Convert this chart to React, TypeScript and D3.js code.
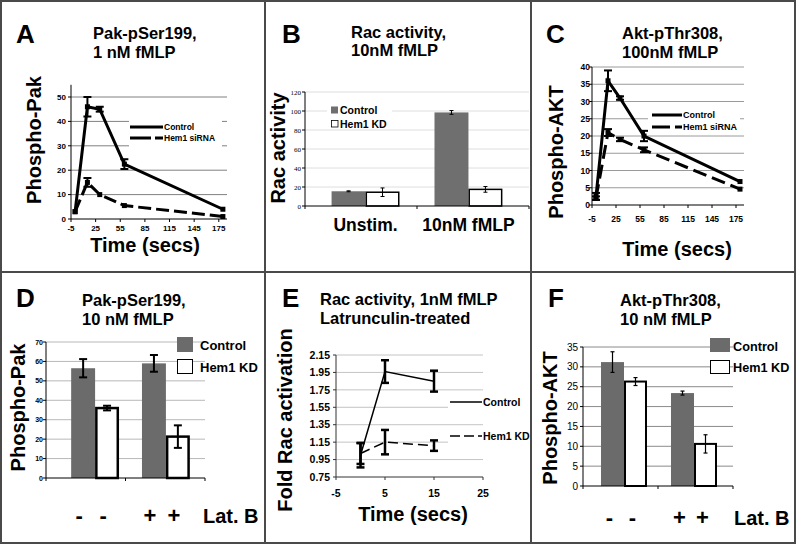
import React from "react";
import * as d3 from "d3";

const FONT = "'Liberation Sans', Arial, Helvetica, sans-serif";

// ---------- Panel A data (Pak-pSer199, 1 nM fMLP) ----------
const timesA = [0, 15, 30, 60, 180];
const pakControl = [3, 46, 45, 22.5, 4];
const pakControlErr = [0, 4, 1, 2, 0];
const pakHem1 = [3, 15, 10, 5.5, 1];
const pakHem1Err = [0, 1.8, 0, 0, 0];
const ticksAx = [-5, 25, 55, 85, 115, 145, 175];
const ticksAy = [0, 10, 20, 30, 40, 50];

// ---------- Panel B data (Rac activity, 10nM fMLP) ----------
const racCategories = ["Unstim.", "10nM fMLP"];
const racControl = [15.5, 98.5];
const racControlErr = [0.5, 2];
const racHem1 = [14.5, 17.5];
const racHem1Err = [4.5, 3];
const ticksBy = [0, 20, 40, 60, 80, 100, 120];

// ---------- Panel C data (Akt-pThr308, 100nM fMLP) ----------
const timesC = [0, 15, 30, 60, 180];
const aktControl = [2.5, 36, 31, 20, 6.8];
const aktControlErr = [1, 3, 0.5, 1.5, 0];
const aktHem1 = [2, 21, 19, 16, 4.6];
const aktHem1Err = [0.5, 1, 0.5, 0.7, 0];
const ticksCx = [-5, 25, 55, 85, 115, 145, 175];
const ticksCy = [0, 5, 10, 15, 20, 25, 30, 35, 40];

// ---------- Panel D data (Pak-pSer199, 10 nM fMLP, Lat. B) ----------
const latGroups = ["-", "+"];
const latLabels = ["-", "-", "+", "+"];
const pakLatControl = [56.5, 59];
const pakLatControlErr = [4.7, 4.3];
const pakLatHem1 = [36, 21.3];
const pakLatHem1Err = [1.2, 5.8];
const ticksDy = [0, 10, 20, 30, 40, 50, 60, 70];

// ---------- Panel E data (Rac activity, 1nM fMLP, Latrunculin) ----------
const timesE = [0, 5, 15];
const racLatControl = [1.0, 1.96, 1.85];
const racLatControlErr = [0.14, 0.13, 0.12];
const racLatHem1 = [1.02, 1.15, 1.11];
const racLatHem1Err = [0.12, 0.14, 0.06];
const ticksEx = [-5, 5, 15, 25];
const ticksEy = [0.75, 0.95, 1.15, 1.35, 1.55, 1.75, 1.95, 2.15];

// ---------- Panel F data (Akt-pThr308, 10 nM fMLP, Lat. B) ----------
const aktLatControl = [31.2, 23.4];
const aktLatControlErr = [2.6, 0.5];
const aktLatHem1 = [26.3, 10.6];
const aktLatHem1Err = [1, 2.3];
const ticksFy = [0, 5, 10, 15, 20, 25, 30, 35];

type Series = { t: number[]; v: number[]; e: number[]; dash?: string };

function LineChart(p: {
  xd: [number, number];
  xr: [number, number];
  yd: [number, number];
  yr: [number, number];
  xTicks: number[];
  yTicks: number[];
  series: Series[];
  grid: string;
  lw: number;
  ew: number;
  cap: number;
  marker: number;
  tf: number;
  tw: string;
  yFmt: (n: number) => string;
  xLabY: number;
  yLabX: number;
  axis: string;
}) {
  const x = d3.scaleLinear().domain(p.xd).range(p.xr);
  const y = d3.scaleLinear().domain(p.yd).range(p.yr);
  const gen = d3
    .line<[number, number]>()
    .x((d) => x(d[0]))
    .y((d) => y(d[1]));
  return (
    <g>
      {p.yTicks
        .filter((t) => t > p.yd[0])
        .map((t) => (
          <line key={"g" + t} x1={p.xr[0]} x2={p.xr[1]} y1={y(t)} y2={y(t)} stroke={p.grid} strokeWidth={1} />
        ))}
      <line x1={p.xr[0]} x2={p.xr[0]} y1={p.yr[0]} y2={p.yr[1]} stroke={p.axis} strokeWidth={1} />
      <line x1={p.xr[0]} x2={p.xr[1]} y1={p.yr[0]} y2={p.yr[0]} stroke={p.axis} strokeWidth={1} />
      {p.yTicks.map((t) => (
        <g key={"y" + t}>
          <line x1={p.xr[0] - 3} x2={p.xr[0]} y1={y(t)} y2={y(t)} stroke={p.axis} />
          <text x={p.yLabX} y={y(t) + p.tf * 0.36} textAnchor="end" fontSize={p.tf} fontWeight={p.tw}>
            {p.yFmt(t)}
          </text>
        </g>
      ))}
      {p.xTicks.map((t) => (
        <g key={"x" + t}>
          <line x1={x(t)} x2={x(t)} y1={p.yr[0]} y2={p.yr[0] + 3} stroke={p.axis} />
          <text x={x(t)} y={p.xLabY} textAnchor="middle" fontSize={p.tf} fontWeight={p.tw}>
            {t}
          </text>
        </g>
      ))}
      {p.series.map((s, si) => (
        <g key={"s" + si}>
          <path
            d={gen(s.t.map((t, i) => [t, s.v[i]] as [number, number])) || ""}
            fill="none"
            stroke="#000"
            strokeWidth={p.lw}
            strokeDasharray={s.dash}
            strokeLinejoin="miter"
          />
          {s.t.map((t, i) =>
            s.e[i] > 0 ? (
              <g key={"e" + i} stroke="#000" strokeWidth={p.ew}>
                <line x1={x(t)} x2={x(t)} y1={y(s.v[i] - s.e[i])} y2={y(s.v[i] + s.e[i])} />
                <line x1={x(t) - p.cap / 2} x2={x(t) + p.cap / 2} y1={y(s.v[i] + s.e[i])} y2={y(s.v[i] + s.e[i])} />
                <line x1={x(t) - p.cap / 2} x2={x(t) + p.cap / 2} y1={y(s.v[i] - s.e[i])} y2={y(s.v[i] - s.e[i])} />
              </g>
            ) : null
          )}
          {p.marker > 0 &&
            s.t.map((t, i) => (
              <rect
                key={"m" + i}
                x={x(t) - p.marker / 2}
                y={y(s.v[i]) - p.marker / 2}
                width={p.marker}
                height={p.marker}
                fill="#000"
              />
            ))}
        </g>
      ))}
    </g>
  );
}

function BarChart(p: {
  groups: string[];
  br: [number, number];
  pi: number;
  po: number;
  axr: [number, number];
  yd: [number, number];
  yr: [number, number];
  yTicks: number[];
  control: number[];
  controlErr: number[];
  hem: number[];
  hemErr: number[];
  grid: string;
  gray: string;
  hemStroke: number;
  ew: number;
  cap: number;
  tf: number;
  tw: string;
  tfont?: string;
  yLabX: number;
  axis: string;
}) {
  const xb = d3.scaleBand<string>().domain(p.groups).range(p.br).paddingInner(p.pi).paddingOuter(p.po);
  const xs = d3.scaleBand<string>().domain(["c", "h"]).range([0, xb.bandwidth()]);
  const y = d3.scaleLinear().domain(p.yd).range(p.yr);
  const bars = p.groups.flatMap((g, i) => [
    { g, k: "c", v: p.control[i], e: p.controlErr[i] },
    { g, k: "h", v: p.hem[i], e: p.hemErr[i] },
  ]);
  return (
    <g>
      {p.yTicks
        .filter((t) => t > p.yd[0])
        .map((t) => (
          <line key={"g" + t} x1={p.axr[0]} x2={p.axr[1]} y1={y(t)} y2={y(t)} stroke={p.grid} strokeWidth={1} />
        ))}
      {p.yTicks.map((t) => (
        <g key={"y" + t}>
          <line x1={p.axr[0] - 3} x2={p.axr[0]} y1={y(t)} y2={y(t)} stroke={p.axis} />
          <text
            x={p.yLabX}
            y={y(t) + p.tf * 0.36}
            textAnchor="end"
            fontSize={p.tf}
            fontWeight={p.tw}
            fontFamily={p.tfont || FONT}
          >
            {t}
          </text>
        </g>
      ))}
      {bars.map((b, i) => {
        const x0 = (xb(b.g) || 0) + (xs(b.k) || 0);
        const w = xs.bandwidth();
        const hs = b.k === "h" ? p.hemStroke : 0;
        return (
          <rect
            key={"b" + i}
            x={x0 + hs / 2}
            y={y(b.v)}
            width={w - hs}
            height={y(0) - y(b.v)}
            fill={b.k === "c" ? p.gray : "#fff"}
            stroke={b.k === "h" ? "#000" : "none"}
            strokeWidth={hs}
          />
        );
      })}
      <line x1={p.axr[0]} x2={p.axr[0]} y1={p.yr[0]} y2={p.yr[1]} stroke={p.axis} strokeWidth={1} />
      <line x1={p.axr[0]} x2={p.axr[1]} y1={p.yr[0]} y2={p.yr[0]} stroke={p.axis} strokeWidth={1} />
      {[p.axr[0], (p.axr[0] + p.axr[1]) / 2, p.axr[1]].map((xx, i) => (
        <line key={"t" + i} x1={xx} x2={xx} y1={p.yr[0]} y2={p.yr[0] + 3} stroke={p.axis} />
      ))}
      {bars.map((b, i) => {
        const cx = (xb(b.g) || 0) + (xs(b.k) || 0) + xs.bandwidth() / 2;
        return (
          <g key={"e" + i} stroke="#000" strokeWidth={p.ew}>
            <line x1={cx} x2={cx} y1={y(b.v - b.e)} y2={y(b.v + b.e)} />
            <line x1={cx - p.cap / 2} x2={cx + p.cap / 2} y1={y(b.v + b.e)} y2={y(b.v + b.e)} />
            <line x1={cx - p.cap / 2} x2={cx + p.cap / 2} y1={y(b.v - b.e)} y2={y(b.v - b.e)} />
          </g>
        );
      })}
    </g>
  );
}

function barCenters(groups: string[], br: [number, number], pi: number, po: number) {
  const xb = d3.scaleBand<string>().domain(groups).range(br).paddingInner(pi).paddingOuter(po);
  const xs = d3.scaleBand<string>().domain(["c", "h"]).range([0, xb.bandwidth()]);
  return groups.flatMap((g) => ["c", "h"].map((k) => (xb(g) || 0) + (xs(k) || 0) + xs.bandwidth() / 2));
}

function groupCenters(groups: string[], br: [number, number], pi: number, po: number) {
  const xb = d3.scaleBand<string>().domain(groups).range(br).paddingInner(pi).paddingOuter(po);
  return groups.map((g) => (xb(g) || 0) + xb.bandwidth() / 2);
}

const Title = ({ x, y1, a, b }: { x: number; y1: number; a: string; b: string }) => (
  <g fontSize={16.5} fontWeight="bold">
    <text x={x} y={y1}>{a}</text>
    <text x={x} y={y1 + 18.5}>{b}</text>
  </g>
);

const Letter = ({ x, y, c }: { x: number; y: number; c: string }) => (
  <text x={x} y={y} fontSize={26} fontWeight="bold">{c}</text>
);

const YLabel = ({ x, y, t }: { x: number; y: number; t: string }) => (
  <text transform={`translate(${x},${y}) rotate(-90)`} textAnchor="middle" fontSize={20} fontWeight="bold">
    {t}
  </text>
);

export default function App() {
  const fmt0 = (n: number) => String(n);
  const fmt2 = d3.format(".2f");
  const dCent = barCenters(latGroups, [57, 204], 0.324, 0.2);
  const fCent = barCenters(latGroups, [587, 731], 0.343, 0.2);
  const bCent = groupCenters(racCategories, [311, 523], 0.34, 0.2);
  return (
    <svg
      width={797}
      height={546}
      style={{ position: "absolute", left: 0, top: 0, background: "#fff" }}
      fontFamily={FONT}
    >
      <rect x={0} y={0} width={797} height={546} fill="#fff" />

      {/* ---------- Panel A ---------- */}
      <Letter x={16} y={43} c="A" />
      <Title x={93} y1={39} a="Pak-pSer199," b="1 nM fMLP" />
      <YLabel x={41} y={140} t="Phospho-Pak" />
      <LineChart
        xd={[-5, 185]}
        xr={[71, 227]}
        yd={[0, 55]}
        yr={[219, 84.8]}
        xTicks={ticksAx}
        yTicks={ticksAy}
        series={[
          { t: timesA, v: pakControl, e: pakControlErr },
          { t: timesA, v: pakHem1, e: pakHem1Err, dash: "13,5" },
        ]}
        grid="#808080"
        lw={3}
        ew={2}
        cap={8}
        marker={5}
        tf={8}
        tw="bold"
        yFmt={fmt0}
        xLabY={231}
        yLabX={66}
        axis="#000"
      />
      <rect x={129} y={117} width={93} height={31} fill="#fff" />
      <line x1={130} x2={163} y1={127} y2={127} stroke="#000" strokeWidth={3} />
      <line x1={130} x2={163} y1={138} y2={138} stroke="#000" strokeWidth={3} strokeDasharray="21,4,8,2" />
      <text x={164} y={130} fontSize={8.5} fontWeight="bold">Control</text>
      <text x={164} y={141} fontSize={8.5} fontWeight="bold">Hem1 siRNA</text>
      <text x={145} y={252} textAnchor="middle" fontSize={20} fontWeight="bold">Time (secs)</text>

      {/* ---------- Panel B ---------- */}
      <Letter x={282} y={43} c="B" />
      <Title x={351} y1={37.5} a="Rac activity," b="10nM fMLP" />
      <YLabel x={285} y={148} t="Rac activity" />
      <BarChart
        groups={racCategories}
        br={[311, 523]}
        pi={0.34}
        po={0.2}
        axr={[305, 529]}
        yd={[0, 120]}
        yr={[206, 92]}
        yTicks={ticksBy}
        control={racControl}
        controlErr={racControlErr}
        hem={racHem1}
        hemErr={racHem1Err}
        grid="#dedede"
        gray="#6f6f6f"
        hemStroke={1.5}
        ew={1}
        cap={4}
        tf={7}
        tw="normal"
        tfont="'Liberation Serif', 'Times New Roman', serif"
        yLabX={301}
        axis="#000"
      />
      <rect x={327} y={103} width={65} height={26} fill="#fff" />
      <rect x={331} y={106.5} width={7} height={7} fill="#6f6f6f" />
      <text x={340} y={113.5} fontSize={10.5} fontWeight="bold">Control</text>
      <rect x={331.5} y={120.5} width={6.5} height={6.5} fill="#fff" stroke="#000" strokeWidth={0.8} />
      <text x={340} y={127.5} fontSize={10.5} fontWeight="bold">Hem1 KD</text>
      {racCategories.map((c, i) => (
        <text key={c} x={bCent[i]} y={231} textAnchor="middle" fontSize={17.5} fontWeight="bold">
          {c}
        </text>
      ))}

      {/* ---------- Panel C ---------- */}
      <Letter x={546} y={43} c="C" />
      <Title x={622} y1={39} a="Akt-pThr308," b="100nM fMLP" />
      <YLabel x={563} y={152} t="Phospho-AKT" />
      <LineChart
        xd={[-5, 185]}
        xr={[592, 744]}
        yd={[0, 40]}
        yr={[205, 67]}
        xTicks={ticksCx}
        yTicks={ticksCy}
        series={[
          { t: timesC, v: aktControl, e: aktControlErr },
          { t: timesC, v: aktHem1, e: aktHem1Err, dash: "14,6" },
        ]}
        grid="#9a9a9a"
        lw={3}
        ew={2}
        cap={8}
        marker={5}
        tf={8.5}
        tw="bold"
        yFmt={fmt0}
        xLabY={222}
        yLabX={590}
        axis="#000"
      />
      <rect x={648} y={108} width={92} height={25} fill="#fff" />
      <line x1={652} x2={682} y1={115} y2={115} stroke="#000" strokeWidth={3} />
      <line x1={652} x2={682} y1={127} y2={127} stroke="#000" strokeWidth={3} strokeDasharray="18,5,7,2" />
      <text x={683} y={118} fontSize={9} fontWeight="bold">Control</text>
      <text x={683} y={130} fontSize={9} fontWeight="bold">Hem1 siRNA</text>
      <text x={677} y={256} textAnchor="middle" fontSize={20} fontWeight="bold">Time (secs)</text>

      {/* ---------- Panel D ---------- */}
      <Letter x={16} y={307} c="D" />
      <Title x={82} y1={306} a="Pak-pSer199," b="10 nM fMLP" />
      <YLabel x={25} y={407.5} t="Phospho-Pak" />
      <BarChart
        groups={latGroups}
        br={[57, 204]}
        pi={0.324}
        po={0.2}
        axr={[46, 205]}
        yd={[0, 70]}
        yr={[478, 342]}
        yTicks={ticksDy}
        control={pakLatControl}
        controlErr={pakLatControlErr}
        hem={pakLatHem1}
        hemErr={pakLatHem1Err}
        grid="#b8b8b8"
        gray="#6b6b6b"
        hemStroke={2.5}
        ew={2}
        cap={8}
        tf={7}
        tw="bold"
        yLabX={43}
        axis="#000"
      />
      <rect x={177} y={337} width={16} height={15} fill="#6b6b6b" />
      <text x={200} y={350} fontSize={13} fontWeight="bold">Control</text>
      <rect x={177.5} y={359.5} width={15} height={14} fill="#fff" stroke="#000" strokeWidth={1} />
      <text x={200} y={372} fontSize={13} fontWeight="bold">Hem1 KD</text>
      {latLabels.map((l, i) => (
        <text key={"dl" + i} x={dCent[i] - 4} y={523} textAnchor="middle" fontSize={22} fontWeight="bold">
          {l}
        </text>
      ))}
      <text x={203} y={523} fontSize={20} fontWeight="bold">Lat. B</text>

      {/* ---------- Panel E ---------- */}
      <Letter x={282} y={307} c="E" />
      <Title x={320} y1={305} a="Rac activity, 1nM fMLP" b="Latrunculin-treated" />
      <YLabel x={292} y={420} t="Fold Rac activation" />
      <LineChart
        xd={[-5, 25]}
        xr={[336, 483]}
        yd={[0.75, 2.15]}
        yr={[477, 355]}
        xTicks={ticksEx}
        yTicks={ticksEy}
        series={[
          { t: timesE, v: racLatControl, e: racLatControlErr },
          { t: timesE, v: racLatHem1, e: racLatHem1Err, dash: "10,5" },
        ]}
        grid="#c4c4c4"
        lw={1.5}
        ew={2.5}
        cap={8}
        marker={0}
        tf={10.5}
        tw="bold"
        yFmt={fmt2}
        xLabY={497}
        yLabX={330}
        axis="#333"
      />
      <rect x={448} y={395} width={82} height={14} fill="#fff" />
      <rect x={448} y={429} width={82} height={15} fill="#fff" />
      <line x1={450} x2={482} y1={402} y2={402} stroke="#000" strokeWidth={1.5} />
      <line x1={450} x2={482} y1={436} y2={436} stroke="#000" strokeWidth={1.5} strokeDasharray="10,4" />
      <text x={483} y={406} fontSize={10.5} fontWeight="bold">Control</text>
      <text x={483} y={440} fontSize={10.5} fontWeight="bold">Hem1 KD</text>
      <text x={413} y={521} textAnchor="middle" fontSize={20} fontWeight="bold">Time (secs)</text>

      {/* ---------- Panel F ---------- */}
      <Letter x={548} y={307} c="F" />
      <Title x={620} y1={306} a="Akt-pThr308," b="10 nM fMLP" />
      <YLabel x={557} y={418} t="Phospho-AKT" />
      <BarChart
        groups={latGroups}
        br={[587, 731]}
        pi={0.343}
        po={0.2}
        axr={[583, 733]}
        yd={[0, 35]}
        yr={[486, 347]}
        yTicks={ticksFy}
        control={aktLatControl}
        controlErr={aktLatControlErr}
        hem={aktLatHem1}
        hemErr={aktLatHem1Err}
        grid="#8a8a8a"
        gray="#6b6b6b"
        hemStroke={2}
        ew={1.2}
        cap={4}
        tf={10}
        tw="normal"
        yLabX={578}
        axis="#000"
      />
      <rect x={710} y={338} width={20} height={14} fill="#6b6b6b" />
      <text x={733} y={351} fontSize={12.7} fontWeight="bold">Control</text>
      <rect x={710.5} y={360.5} width={19} height={13} fill="#fff" stroke="#000" strokeWidth={1} />
      <text x={733} y={372} fontSize={12.7} fontWeight="bold">Hem1 KD</text>
      {latLabels.map((l, i) => (
        <text key={"fl" + i} x={fCent[i] - 3} y={525} textAnchor="middle" fontSize={22} fontWeight="bold">
          {l}
        </text>
      ))}
      <text x={734} y={525} fontSize={20} fontWeight="bold">Lat. B</text>

      {/* ---------- Frame ---------- */}
      <g stroke="#4a4a4a" strokeWidth={2} fill="none">
        <rect x={1} y={1} width={794} height={542} />
        <line x1={265} x2={265} y1={1} y2={543} />
        <line x1={531} x2={531} y1={1} y2={543} />
        <line x1={1} x2={795} y1={272} y2={272} />
      </g>
    </svg>
  );
}
